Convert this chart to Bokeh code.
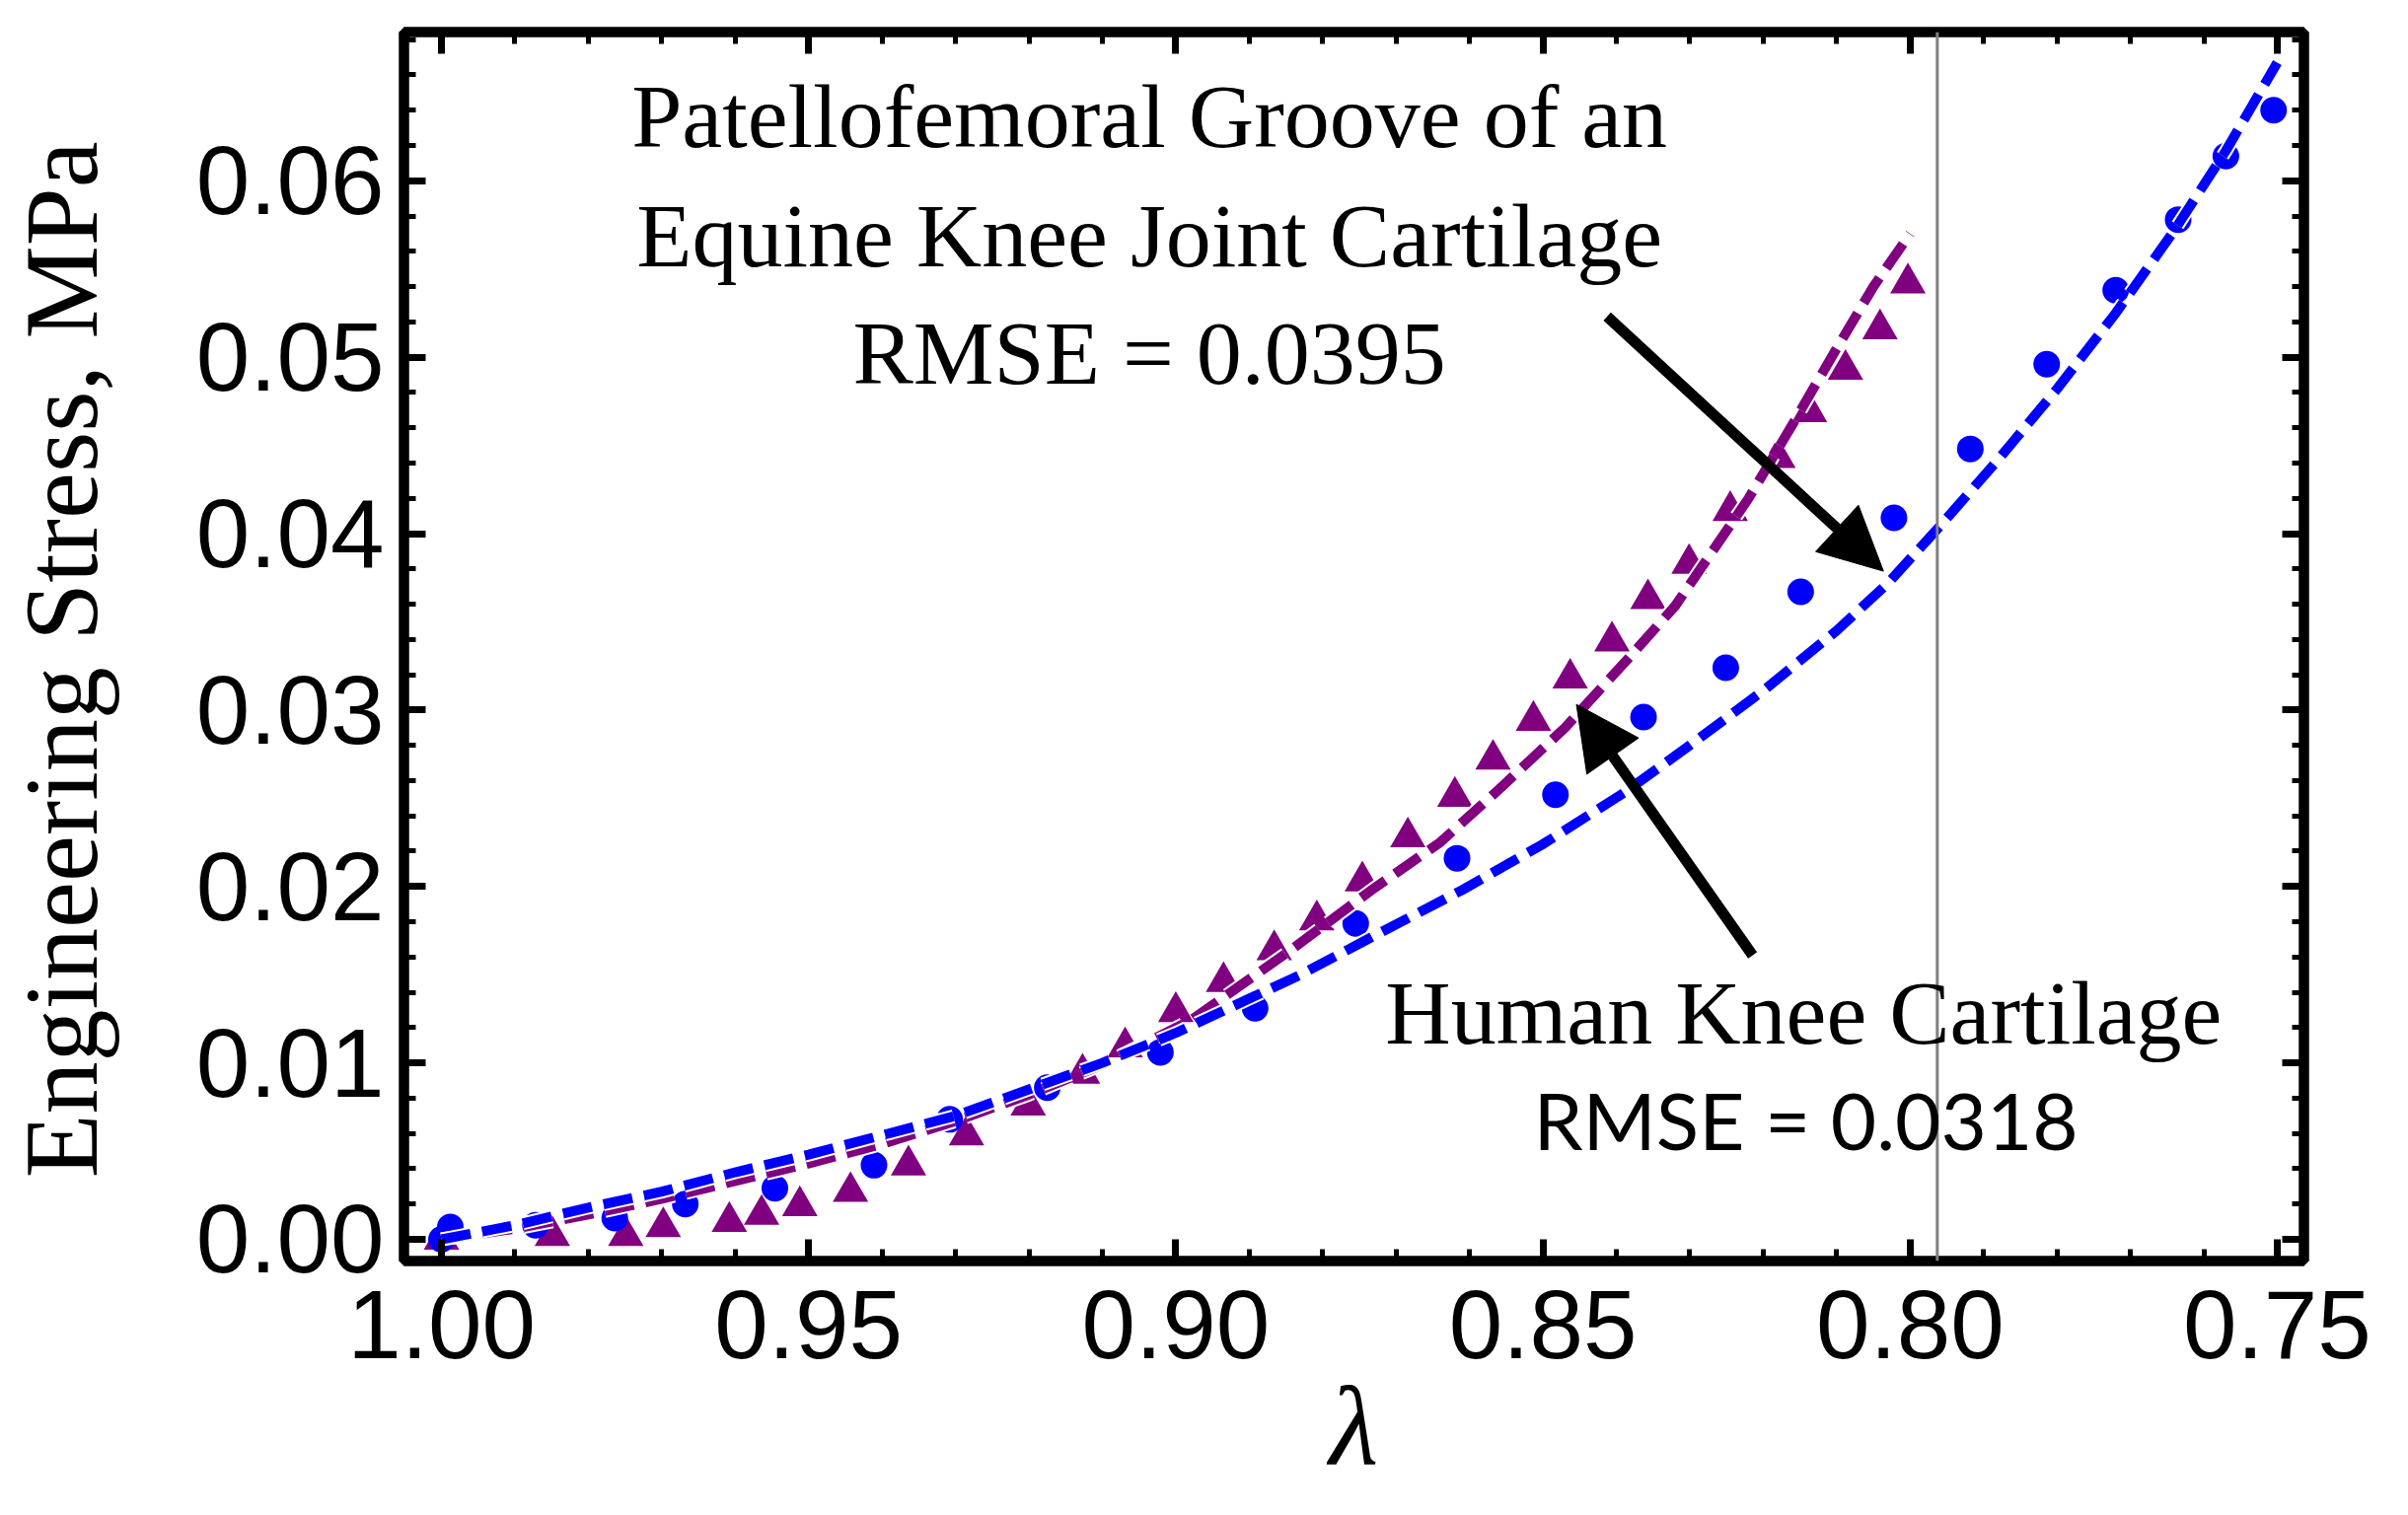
from bokeh.plotting import figure
from bokeh.models import (Range1d, FixedTicker, NumeralTickFormatter, LinearAxis,
                          Label, Arrow, NormalHead, Span, CustomJSTickFormatter)
from bokeh.embed import file_html
from bokeh.resources import INLINE

# ---------------- data ----------------
human_lambda = [1.000, 0.9988, 0.9872, 0.9764, 0.9668, 0.9546, 0.9411, 0.9308, 0.9175,
                0.9021, 0.8892, 0.8755, 0.8617, 0.8483, 0.8363, 0.8251, 0.8149, 0.8022,
                0.7918, 0.7814, 0.7720, 0.7635, 0.7570, 0.7505]
human_stress = [0.0000, 0.0007, 0.0008, 0.0012, 0.0020, 0.0029, 0.0042, 0.0068, 0.0086,
                0.0106, 0.0131, 0.0179, 0.0216, 0.0252, 0.0296, 0.0324, 0.0367, 0.0409,
                0.0448, 0.0496, 0.0538, 0.0578, 0.0614, 0.0640]

equine_lambda = [1.000, 0.9849, 0.9749, 0.9698, 0.9608, 0.9564, 0.9512, 0.9443, 0.9364,
                 0.9285, 0.9201, 0.9127, 0.9069, 0.9000, 0.8935, 0.8866, 0.8808, 0.8746,
                 0.8684, 0.8620, 0.8568, 0.8513, 0.8463, 0.8406, 0.8357, 0.8301, 0.8245,
                 0.8180, 0.8137, 0.8088, 0.8041, 0.8003]
equine_stress = [0.0000, 0.0002, 0.0002, 0.0007, 0.0010, 0.0014, 0.0019, 0.0027, 0.0042,
                 0.0059, 0.0076, 0.0094, 0.0109, 0.0129, 0.0146, 0.0164, 0.0181, 0.0203,
                 0.0228, 0.0251, 0.0272, 0.0294, 0.0318, 0.0339, 0.0363, 0.0383, 0.0413,
                 0.0443, 0.0469, 0.0493, 0.0516, 0.0542]

human_fit_lambda = [1.000, 0.990, 0.980, 0.970, 0.960, 0.950, 0.940, 0.930, 0.920, 0.910,
                    0.900, 0.883, 0.873, 0.861, 0.850, 0.839, 0.830, 0.820, 0.810, 0.803,
                    0.796, 0.788, 0.780, 0.772, 0.764, 0.757, 0.750]
human_fit_stress = [0.0000, 0.0008, 0.0018, 0.0027, 0.0038, 0.0048, 0.0059, 0.0070, 0.0085,
                    0.0100, 0.0117, 0.0150, 0.0172, 0.0198, 0.0224, 0.0253, 0.0280, 0.0311,
                    0.0345, 0.0372, 0.0404, 0.0442, 0.0482, 0.0525, 0.0572, 0.0617, 0.0667]

equine_fit_lambda = [1.000, 0.990, 0.980, 0.970, 0.960, 0.950, 0.940, 0.930, 0.920, 0.910,
                     0.898, 0.885, 0.873, 0.864, 0.856, 0.847, 0.838, 0.832, 0.822, 0.816,
                     0.810, 0.805, 0.800]
equine_fit_stress = [0.0000, 0.0006, 0.0014, 0.0023, 0.0033, 0.0043, 0.0054, 0.0067, 0.0082,
                     0.0099, 0.0124, 0.0162, 0.0199, 0.0225, 0.0255, 0.0290, 0.0331, 0.0359,
                     0.0420, 0.0462, 0.0505, 0.0540, 0.0570]

x_ticks = [1.00, 0.95, 0.90, 0.85, 0.80, 0.75]
x_minor_ticks = [round(1.00 - 0.01 * i, 2) for i in range(26)]
y_ticks = [0.00, 0.01, 0.02, 0.03, 0.04, 0.05, 0.06]
y_minor_ticks = [round(0.002 * i, 3) for i in range(35)]

marker_line = 0.7963

y_title = "Engineering Stress,  MPa"
x_title = "λ"
equine_label = ["Patellofemoral Groove of an", "Equine Knee Joint Cartilage", "RMSE = 0.0395"]
human_label = ["Human Knee Cartilage", "RMSE = 0.0318"]

BLUE = "#0000FF"
PURPLE = "#800080"
SERIF = "Liberation Serif"

# ---------------- figure ----------------
p = figure(width=2424, height=1518,
           x_range=Range1d(1.00511, 0.74637), y_range=Range1d(-0.00123, 0.06843),
           output_backend="svg", toolbar_location=None,
           min_border_left=407, min_border_right=89, min_border_top=32, min_border_bottom=240,
           x_axis_label=x_title, y_axis_label=y_title)
p.background_fill_color = "white"
p.border_fill_color = "white"
p.grid.visible = False
p.outline_line_color = "black"
p.outline_line_width = 10

def style_axis(ax, labels=True):
    ax.axis_line_width = 10
    ax.axis_line_color = "black"
    ax.major_tick_in = 22
    ax.major_tick_out = 0
    ax.major_tick_line_width = 7
    ax.minor_tick_in = 12
    ax.minor_tick_out = 0
    ax.minor_tick_line_width = 5
    if labels:
        ax.major_label_text_font = "Liberation Sans"
        ax.major_label_text_font_size = "98px"
        ax.major_label_text_color = "black"
    else:
        ax.formatter = CustomJSTickFormatter(code="return ''")
        ax.major_label_text_font_size = "10px"
        ax.major_label_standoff = 0

xa = p.xaxis[0]
xa.ticker = FixedTicker(ticks=x_ticks, minor_ticks=x_minor_ticks)
xa.formatter = NumeralTickFormatter(format="0.00")
style_axis(xa)
xa.major_label_standoff = 30
xa.axis_label_text_font = SERIF
xa.axis_label_text_font_style = "italic"
xa.axis_label_text_font_size = "115px"
xa.axis_label_text_color = "black"
xa.axis_label_standoff = 2

ya = p.yaxis[0]
ya.ticker = FixedTicker(ticks=y_ticks, minor_ticks=y_minor_ticks)
ya.formatter = NumeralTickFormatter(format="0.00")
style_axis(ya)
ya.major_label_standoff = 20
ya.axis_label_text_font = SERIF
ya.axis_label_text_font_style = "normal"
ya.axis_label_text_font_size = "106px"
ya.axis_label_text_color = "black"
ya.axis_label_standoff = 75

top_ax = LinearAxis(ticker=FixedTicker(ticks=x_ticks, minor_ticks=x_minor_ticks))
style_axis(top_ax, labels=False)
p.add_layout(top_ax, "above")
right_ax = LinearAxis(ticker=FixedTicker(ticks=y_ticks, minor_ticks=y_minor_ticks))
style_axis(right_ax, labels=False)
p.add_layout(right_ax, "right")

# vertical reference line
p.add_layout(Span(location=marker_line, dimension="height", line_color="#7f7f7f", line_width=3))

# data points
p.scatter(equine_lambda, equine_stress, marker="triangle", size=36,
          fill_color=PURPLE, line_color=None)
p.scatter(human_lambda, human_stress, marker="circle", size=27,
          fill_color=BLUE, line_color=None)

# fit curves (white rim then coloured dash)
for xs, ys, c in [(equine_fit_lambda, equine_fit_stress, PURPLE),
                  (human_fit_lambda, human_fit_stress, BLUE)]:
    p.line(xs, ys, line_color="white", line_width=14, line_dash="30 12")
    p.line(xs, ys, line_color=c, line_width=10, line_dash="30 12")

# annotations
def add_text(x, y, txt, font=SERIF, size="92px"):
    p.add_layout(Label(x=x, y=y, text=txt, text_align="center", text_baseline="alphabetic",
                       text_font=font, text_font_size=size, text_color="black"))

add_text(0.9036, 0.06364, equine_label[0])
add_text(0.9036, 0.05691, equine_label[1])
add_text(0.9036, 0.05022, equine_label[2])
add_text(0.8145, 0.01285, human_label[0])
add_text(0.8142, 0.00678, human_label[1], font="Lato", size="80px")

# arrows
p.add_layout(Arrow(end=NormalHead(size=64, fill_color="black", line_color="black", line_width=1),
                   x_start=0.84126, y_start=0.05231, x_end=0.80363, y_end=0.03787,
                   line_width=11, line_color="black"))
p.add_layout(Arrow(end=NormalHead(size=64, fill_color="black", line_color="black", line_width=1),
                   x_start=0.82145, y_start=0.01610, x_end=0.84544, y_end=0.03032,
                   line_width=11, line_color="black"))

open("out.html", "w").write(file_html(p, INLINE))
